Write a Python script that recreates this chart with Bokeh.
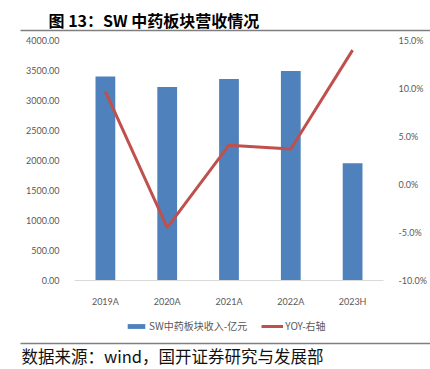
from bokeh.plotting import figure
from bokeh.models import (Range1d, LinearAxis, NumeralTickFormatter, PrintfTickFormatter,
                          FixedTicker, Legend, LegendItem, Label, ColumnDataSource)
from bokeh.embed import file_html
from bokeh.resources import INLINE

categories = ["2019A", "2020A", "2021A", "2022A", "2023H"]
revenue = [3400, 3225, 3360, 3490, 1955]
yoy = [9.7, -4.5, 4.1, 3.7, 14.0]
left_ticks = [0, 500, 1000, 1500, 2000, 2500, 3000, 3500, 4000]
right_ticks = [-10, -5, 0, 5, 10, 15]
title_text = "图 13：SW 中药板块营收情况"
source_text = "数据来源：wind，国开证券研究与发展部"
series_names = ["SW中药板块收入-亿元", "YOY-右轴"]

# canvas and plot-area geometry (pixels)
W, H = 430, 369
PX_L, PX_R, PY_T, PY_B = 74, 383, 40, 280
NUM_FONT = "Lato"
CJK = "Noto Sans CJK SC"
TICK_COLOR = "#595959"
RULE_COLOR = "#7f7f7f"

n = len(categories)
xs = [i + 0.5 for i in range(n)]
ux = (PX_R - PX_L) / n
ky = (left_ticks[-1] - left_ticks[0]) / (PY_B - PY_T)
kp = (right_ticks[-1] - right_ticks[0]) / (PY_B - PY_T)
x_start = -PX_L / ux
x_end = n + (W - PX_R) / ux
y_top = left_ticks[-1] + PY_T * ky

p = figure(width=W, height=H,
           x_range=Range1d(x_start, x_end),
           y_range=Range1d(left_ticks[0] - (H - PY_B) * ky, y_top),
           output_backend="svg", toolbar_location=None, min_border=0,
           outline_line_color=None, x_axis_location=None, y_axis_location=None)
p.extra_y_ranges = {"pct": Range1d(right_ticks[0] - (H - PY_B) * kp, right_ticks[-1] + PY_T * kp)}
p.grid.visible = False

# horizontal rules under the title and above the source line (thin bars)
rule_y = [y_top - 30 * ky, y_top - 343 * ky]
p.hbar(y=rule_y, left=x_start + 20 / ux, right=x_end, height=1.4 * ky,
       fill_color=RULE_COLOR, line_color=None)

src = ColumnDataSource(dict(x=xs, cat=categories, revenue=revenue, yoy=yoy))
bars = p.vbar(x="x", top="revenue", width=0.32, source=src, fill_color="#4F81BD", line_color=None)
line = p.line(x="x", y="yoy", source=src, y_range_name="pct", line_color="#C0504D", line_width=3)

ax_l = LinearAxis(fixed_location=0, bounds=(left_ticks[0], left_ticks[-1]),
                  ticker=FixedTicker(ticks=left_ticks), formatter=NumeralTickFormatter(format="0.00"))
ax_r = LinearAxis(fixed_location=n, y_range_name="pct", bounds=(right_ticks[0], right_ticks[-1]),
                  ticker=FixedTicker(ticks=right_ticks), formatter=PrintfTickFormatter(format="%.1f%%"))
ax_b = LinearAxis(fixed_location=left_ticks[0], bounds=(0, n), ticker=FixedTicker(ticks=xs),
                  major_label_overrides={x: c for x, c in zip(xs, categories)})
p.add_layout(ax_l, "left")
p.add_layout(ax_r, "right")
p.add_layout(ax_b, "below")

for ax in [ax_l, ax_r, ax_b]:
    ax.major_tick_line_color = None
    ax.minor_tick_line_color = None
    ax.major_label_text_font = NUM_FONT
    ax.major_label_text_font_size = "9px"
    ax.major_label_text_color = TICK_COLOR
    ax.major_label_standoff = 9
ax_l.axis_line_color = None
ax_r.axis_line_color = None
ax_b.axis_line_color = "#d9d9d9"

legend = Legend(items=[LegendItem(label=series_names[0], renderers=[bars]),
                       LegendItem(label=series_names[1], renderers=[line])],
                orientation="horizontal", location=(125, H - 333),
                border_line_color=None, background_fill_alpha=0,
                label_text_font=CJK, label_text_font_size="10px", label_text_color=TICK_COLOR,
                glyph_width=22, glyph_height=6, label_height=12, label_standoff=2, spacing=14,
                padding=2, margin=0)
p.add_layout(legend, "center")

# title and source (screen units from the canvas' bottom-left)
p.add_layout(Label(x=48, y=H - 19, x_units="screen", y_units="screen", text=title_text,
                   text_font=CJK, text_font_size="16px", text_font_style="bold",
                   text_baseline="middle", text_align="left", text_color="black"))
p.add_layout(Label(x=21, y=H - 355, x_units="screen", y_units="screen", text=source_text,
                   text_font=CJK, text_font_size="16.5px",
                   text_baseline="middle", text_align="left", text_color="#111111"))

open("out.html", "w").write(file_html(p, INLINE))
